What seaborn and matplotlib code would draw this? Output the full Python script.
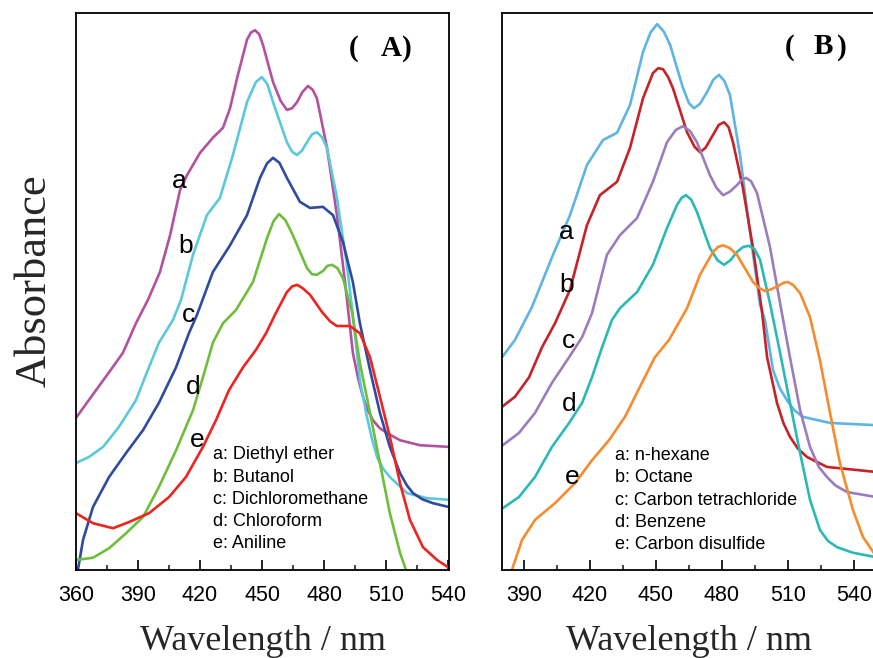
import matplotlib
matplotlib.use("Agg")
import matplotlib.pyplot as plt
from matplotlib.ticker import MultipleLocator
import pandas as pd
import seaborn as sns

# ---------------- Panel A: polar / mixed solvents ----------------
A_keys = ["a", "b", "c", "d", "e"]
A_names = ["Diethyl ether", "Butanol", "Dichloromethane", "Chloroform", "Aniline"]
A_colors = ["#B4519F", "#5CC8DC", "#2E4BA0", "#6EBE3C", "#EF2320"]

A_a_nm = [360.0, 369.7, 376.0, 382.7, 389.0, 394.8, 400.6, 405.5, 410.3, 413.7, 420.0, 426.2,
          431.1, 434.5, 437.9, 442.7, 444.6, 446.6, 448.6, 450.4, 455.3, 459.0, 462.0, 464.5,
          466.9, 469.5, 472.2, 474.5, 476.5, 481.4, 486.2, 490.1, 493.9, 496.5, 498.8, 501.0,
          503.6, 506.8, 510.4, 516.7, 526.3, 540.4]
A_a_abs = [0.273, 0.323, 0.355, 0.390, 0.443, 0.485, 0.535, 0.601, 0.682, 0.709, 0.749, 0.776,
           0.794, 0.829, 0.883, 0.952, 0.965, 0.969, 0.962, 0.943, 0.876, 0.842, 0.826, 0.829,
           0.840, 0.858, 0.869, 0.862, 0.847, 0.758, 0.637, 0.517, 0.390, 0.343, 0.311, 0.288,
           0.269, 0.255, 0.246, 0.233, 0.224, 0.221]

A_b_nm = [360.0, 366.3, 373.1, 380.8, 389.0, 395.3, 400.1, 406.9, 410.8, 416.6, 423.3, 429.6,
          435.9, 442.7, 447.0, 449.9, 452.6, 455.3, 462.0, 464.5, 466.9, 469.3, 471.7, 474.1,
          476.5, 479.0, 481.4, 486.2, 491.0, 493.9, 497.3, 500.7, 503.0, 505.6, 508.5, 511.8,
          520.1, 529.7, 540.4]
A_b_abs = [0.192, 0.203, 0.221, 0.257, 0.305, 0.364, 0.408, 0.449, 0.485, 0.566, 0.637, 0.668,
           0.745, 0.840, 0.876, 0.885, 0.872, 0.840, 0.768, 0.751, 0.745, 0.753, 0.768, 0.782,
           0.786, 0.777, 0.758, 0.668, 0.548, 0.458, 0.341, 0.275, 0.238, 0.203, 0.182, 0.167,
           0.138, 0.129, 0.126]

A_c_nm = [360.0, 363.4, 368.2, 376.0, 384.2, 392.4, 400.1, 408.4, 414.6, 418.5, 426.2, 434.5,
          442.7, 449.0, 452.4, 455.3, 458.4, 462.0, 468.3, 473.2, 479.4, 484.3, 489.1, 493.9,
          497.3, 502.2, 507.0, 511.8, 516.7, 520.0, 523.0, 527.5, 532.6, 540.4]
A_c_abs = [-0.020, 0.054, 0.113, 0.167, 0.210, 0.251, 0.300, 0.364, 0.425, 0.458, 0.535, 0.583,
           0.637, 0.704, 0.730, 0.740, 0.731, 0.704, 0.661, 0.650, 0.652, 0.637, 0.589, 0.517,
           0.443, 0.359, 0.282, 0.221, 0.174, 0.152, 0.138, 0.127, 0.120, 0.113]

A_d_nm = [360.0, 368.2, 376.0, 384.2, 392.4, 400.1, 408.4, 416.6, 421.4, 426.2, 431.1, 437.4,
          445.6, 452.4, 455.5, 458.2, 461.3, 464.9, 471.7, 474.2, 476.5, 479.5, 481.6, 483.8,
          486.4, 489.1, 493.5, 497.3, 502.2, 507.0, 511.8, 516.7, 519.6, 522.5]
A_d_abs = [0.018, 0.022, 0.039, 0.066, 0.095, 0.149, 0.215, 0.287, 0.346, 0.408, 0.443, 0.467,
           0.517, 0.596, 0.626, 0.639, 0.628, 0.601, 0.542, 0.531, 0.530, 0.537, 0.546, 0.548,
           0.542, 0.524, 0.463, 0.372, 0.282, 0.192, 0.102, 0.031, 0.000, -0.030]

A_e_nm = [360.0, 368.2, 377.9, 385.6, 395.3, 405.0, 413.2, 421.4, 427.7, 434.0, 440.8, 447.0,
          451.9, 456.2, 462.0, 464.5, 466.9, 469.6, 473.2, 479.0, 483.0, 486.2, 492.5, 497.3,
          502.2, 507.0, 511.8, 516.7, 521.5, 527.8, 534.6, 540.4]
A_e_abs = [0.102, 0.084, 0.075, 0.086, 0.102, 0.131, 0.167, 0.221, 0.269, 0.323, 0.364, 0.395,
           0.425, 0.458, 0.499, 0.509, 0.512, 0.506, 0.494, 0.463, 0.446, 0.438, 0.438, 0.425,
           0.382, 0.311, 0.239, 0.156, 0.090, 0.041, 0.018, 0.004]

# curve tags placed beside each spectrum (wavelength, absorbance of baseline)
A_tag_nm = [409.8, 413.2, 414.6, 416.6, 418.5]
A_tag_abs = [0.686, 0.569, 0.445, 0.316, 0.221]

# ---------------- Panel B: non-polar solvents ----------------
B_keys = ["a", "b", "c", "d", "e"]
B_names = ["n-hexane", "Octane", "Carbon tetrachloride", "Benzene", "Carbon disulfide"]
B_colors = ["#5FB4E6", "#C62328", "#9B7DBE", "#2AB9B4", "#F58C2D"]

B_a_nm = [380.0, 385.9, 393.6, 403.2, 410.9, 418.6, 425.9, 432.3, 438.2, 444.1, 447.5, 450.5,
          453.5, 456.4, 462.3, 465.0, 467.3, 470.0, 473.2, 476.0, 478.6, 481.1, 483.6, 488.2,
          492.7, 497.3, 499.5, 503.2, 506.3, 509.5, 512.8, 516.8, 529.1, 550.0]
B_a_abs = [0.382, 0.413, 0.472, 0.566, 0.637, 0.727, 0.772, 0.785, 0.835, 0.930, 0.965, 0.980,
           0.967, 0.943, 0.865, 0.838, 0.829, 0.837, 0.858, 0.880, 0.889, 0.878, 0.853, 0.745,
           0.607, 0.476, 0.449, 0.359, 0.326, 0.305, 0.287, 0.275, 0.264, 0.260]

B_b_nm = [380.0, 385.9, 392.3, 398.2, 404.1, 410.9, 418.6, 424.5, 432.3, 438.2, 444.1, 448.6,
          451.0, 453.2, 455.5, 457.7, 464.1, 467.5, 470.0, 472.5, 475.9, 478.5, 480.9, 483.0,
          485.0, 489.5, 494.1, 498.2, 500.5, 505.0, 508.0, 510.9, 514.5, 518.6, 527.7, 550.0]
B_b_abs = [0.293, 0.311, 0.346, 0.400, 0.443, 0.503, 0.619, 0.673, 0.697, 0.758, 0.847, 0.892,
           0.901, 0.899, 0.885, 0.865, 0.786, 0.760, 0.750, 0.758, 0.781, 0.799, 0.804, 0.795,
           0.768, 0.686, 0.578, 0.463, 0.382, 0.300, 0.263, 0.239, 0.218, 0.203, 0.185, 0.176]

B_c_nm = [380.0, 387.7, 395.0, 402.7, 410.5, 416.4, 420.9, 427.7, 433.6, 441.4, 448.6, 455.0,
          459.0, 462.3, 465.5, 468.6, 474.5, 477.5, 480.5, 483.5, 486.8, 488.8, 490.9, 493.2,
          495.9, 501.8, 506.4, 510.9, 515.5, 520.0, 524.0, 527.7, 531.5, 536.8, 550.0]
B_c_abs = [0.223, 0.246, 0.282, 0.336, 0.382, 0.418, 0.461, 0.566, 0.601, 0.632, 0.697, 0.768,
           0.790, 0.797, 0.788, 0.768, 0.709, 0.686, 0.673, 0.679, 0.691, 0.700, 0.704, 0.698,
           0.677, 0.580, 0.479, 0.382, 0.287, 0.221, 0.185, 0.167, 0.152, 0.140, 0.131]

B_d_nm = [380.0, 387.7, 395.0, 402.7, 410.5, 416.4, 420.9, 425.5, 430.0, 433.6, 441.4, 448.6,
          455.0, 459.5, 461.6, 463.6, 466.0, 468.6, 474.5, 478.0, 480.9, 483.8, 486.8, 489.6,
          492.3, 494.8, 497.3, 501.8, 506.4, 510.9, 515.5, 520.0, 524.5, 528.2, 532.3, 539.5,
          550.0]
B_d_abs = [0.110, 0.131, 0.167, 0.221, 0.264, 0.300, 0.346, 0.400, 0.449, 0.470, 0.499, 0.548,
           0.614, 0.655, 0.668, 0.673, 0.665, 0.643, 0.578, 0.556, 0.548, 0.556, 0.571, 0.580,
           0.582, 0.576, 0.557, 0.479, 0.390, 0.300, 0.210, 0.126, 0.072, 0.052, 0.041, 0.031,
           0.023]

B_e_nm = [383.2, 384.5, 389.1, 395.0, 404.1, 413.2, 420.9, 428.6, 435.9, 443.6, 449.5, 455.9,
          464.1, 470.0, 475.9, 478.2, 480.5, 483.5, 486.8, 494.1, 497.0, 499.5, 502.5, 506.4,
          508.2, 510.0, 512.5, 515.5, 520.0, 524.5, 529.1, 533.6, 539.5, 544.1, 550.0]
B_e_abs = [-0.018, 0.000, 0.054, 0.090, 0.120, 0.156, 0.197, 0.233, 0.275, 0.336, 0.382, 0.413,
           0.470, 0.530, 0.571, 0.580, 0.583, 0.578, 0.566, 0.517, 0.506, 0.501, 0.504, 0.512,
           0.516, 0.517, 0.511, 0.497, 0.454, 0.377, 0.282, 0.192, 0.108, 0.059, 0.025]

B_tag_nm = [409.1, 409.5, 410.2, 410.5, 411.8]
B_tag_abs = [0.594, 0.499, 0.399, 0.285, 0.154]

x_ticks = [360, 390, 420, 450, 480, 510, 540]
x_label = "Wavelength / nm"
y_label = "Absorbance"

# ---------------- styling ----------------
sns.set_style("ticks")
plt.rcParams["font.family"] = ["Liberation Sans", "DejaVu Sans"]

SERIF = ["Liberation Serif", "DejaVu Serif"]
SANS = ["Liberation Sans", "DejaVu Sans"]


def long_frame(keys, nms, abss):
    parts = []
    for k, x, y in zip(keys, nms, abss):
        parts.append(pd.DataFrame({"nm": x, "abs": y, "curve": k}))
    return pd.concat(parts, ignore_index=True)


dfA = long_frame(A_keys, [A_a_nm, A_b_nm, A_c_nm, A_d_nm, A_e_nm],
                 [A_a_abs, A_b_abs, A_c_abs, A_d_abs, A_e_abs])
dfB = long_frame(B_keys, [B_a_nm, B_b_nm, B_c_nm, B_d_nm, B_e_nm],
                 [B_a_abs, B_b_abs, B_c_abs, B_d_abs, B_e_abs])

W, H = 873, 658
fig = plt.figure(figsize=(W / 100, H / 100), dpi=100)
fig.patch.set_facecolor("white")

axA = fig.add_axes([76 / W, 1 - 570 / H, 373 / W, 557 / H])
axB = fig.add_axes([502 / W, 1 - 570 / H, 374 / W, 557 / H])


def style_axis(ax, xlim, ticks):
    ax.set_xlim(*xlim)
    ax.set_ylim(0, 1)
    ax.set_xticks(ticks)
    ax.xaxis.set_minor_locator(MultipleLocator(15))
    ax.set_yticks([])
    ax.tick_params(axis="x", which="major", direction="in", length=7, width=1.2,
                   labelsize=15.5, pad=10.5, top=False, colors="black")
    ax.tick_params(axis="x", which="minor", direction="in", length=3.5, width=1.2, top=False)
    for lab in ax.get_xticklabels():
        lab.set_fontfamily(SANS)
    for s in ax.spines.values():
        s.set_visible(True)
        s.set_linewidth(1.3)
        s.set_color("black")
    ax.set_xlabel(x_label, fontsize=26, family=SERIF, labelpad=14)
    ax.set_ylabel("")
    ax.set_facecolor("white")
    ax.grid(False)


def draw_panel(ax, df, keys, colors, names, tag_nm, tag_abs, leg_x, leg_base_px):
    sns.lineplot(data=df, x="nm", y="abs", hue="curve", palette=dict(zip(keys, colors)),
                 estimator=None, sort=False, legend=False, linewidth=1.9, ax=ax)
    for line in ax.get_lines():
        line.set_solid_joinstyle("round")
        line.set_solid_capstyle("round")
    for k, tx, ty in zip(keys, tag_nm, tag_abs):
        ax.text(tx, ty, k, fontsize=19, family=SANS, ha="center", va="baseline", color="black")
    for i, (k, n) in enumerate(zip(keys, names)):
        yb = (570 - (leg_base_px + 22.3 * i)) / 557
        ax.text(leg_x, yb, f"{k}: {n}", transform=ax.transAxes, fontsize=13, family=SANS,
                ha="left", va="baseline", color="black")


draw_panel(axA, dfA, A_keys, A_colors, A_names, A_tag_nm, A_tag_abs,
           (213 - 76) / 373, 459.3)
draw_panel(axB, dfB, B_keys, B_colors, B_names, B_tag_nm, B_tag_abs,
           (615 - 502) / 374, 460.0)

style_axis(axA, (360, 540.4), x_ticks)
style_axis(axB, (380, 550), x_ticks[1:])

axA.set_ylabel(y_label, fontsize=32, family=SERIF)
axA.yaxis.set_label_coords(-0.056, 0.519)


# panel tags
def panel_tag(ax, letter, x_open, x_letter, x_close, base_px, x0, scale):
    yb = (570 - base_px) / 557
    kw = dict(transform=ax.transAxes, fontsize=21, family=SERIF, fontweight="bold",
              ha="left", va="baseline", color="black")
    ax.text((x_open - x0) / scale, yb, "(", **kw)
    ax.text((x_letter - x0) / scale, yb, letter, **kw)
    ax.text((x_close - x0) / scale, yb, ")", **kw)


panel_tag(axA, "A", 349, 381, 402, 55.5, 76, 373)
panel_tag(axB, "B", 785, 814, 837, 54.5, 502, 374)

fig.savefig("out.png", dpi=100, facecolor="white")
